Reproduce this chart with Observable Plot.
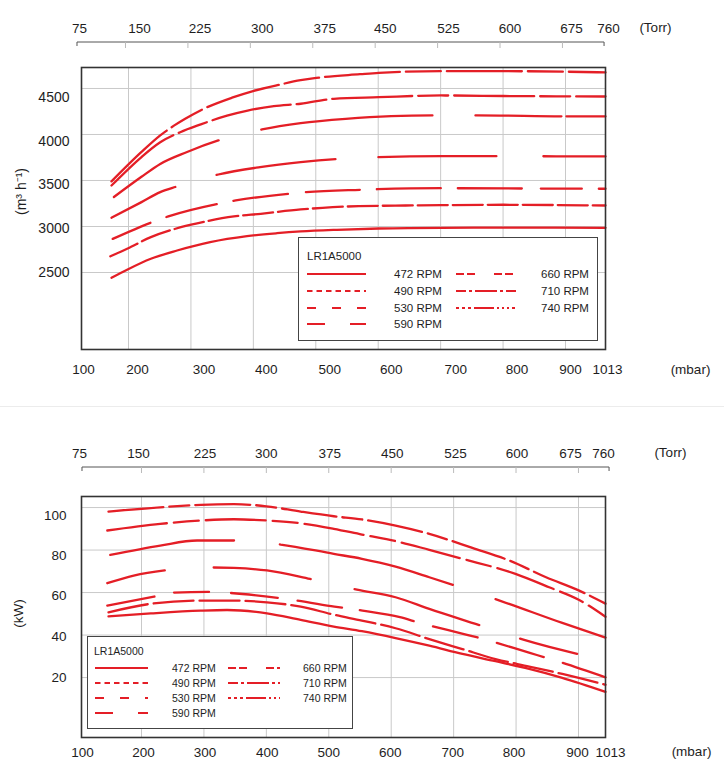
<!DOCTYPE html>
<html><head><meta charset="utf-8">
<script src="https://cdn.jsdelivr.net/npm/d3@7"></script>
<script src="https://cdn.jsdelivr.net/npm/@observablehq/plot@0.6"></script>
<style>
body{margin:0;background:#fff;font-family:"Liberation Sans",Arial,sans-serif;}
#wrap{position:relative;width:724px;height:769px;overflow:hidden;background:#fff;}
.chart{position:absolute;left:0;}
.legend{position:absolute;background:#fff;border:1px solid #444;box-sizing:border-box;}
.sep{position:absolute;left:0;width:724px;height:1px;background:#ececec;}
</style></head><body><div id="wrap"></div><script>
// ---- data ----
const rpmLabels = ["472 RPM","490 RPM","530 RPM","590 RPM","660 RPM","710 RPM","740 RPM"];
const mbarTicks = [100,200,300,400,500,600,700,800,900,1013];
const torrTicks = [75,150,225,300,375,450,525,600,675,760];
const flowTicks = [2500,3000,3500,4000,4500];
const powerTicks = [20,40,60,80,100];
const modelName = "LR1A5000";

const flow472 = [[150,2442],[176,2530],[215,2649],[257,2739],[310,2830],[369,2895],[417,2927],[455,2946],[513,2964],[580,2978],[680,2986],[780,2987],[1013,2986]];
const flow490 = [[148,2675],[176,2758],[215,2884],[263,2992],[305,3058],[348,3109],[391,3138],[455,3185],[490,3203],[548,3221],[623,3228],[680,3232],[780,3236],[1013,3228]];
const flow530 = [[152,2865],[217,3047],[243,3110],[323,3247],[351,3283],[435,3355],[464,3373],[551,3399],[578,3405],[680,3416],[810,3413],[1013,3410]];
const flow590 = [[150,3095],[200,3265],[230,3373],[257,3435],[323,3565],[390,3645],[455,3699],[511,3732],[580,3753],[680,3764],[770,3764],[1013,3761]];
const flow660 = [[154,3320],[200,3540],[230,3680],[273,3810],[323,3935],[393,4055],[455,4123],[527,4170],[600,4199],[668,4207],[737,4207],[875,4197],[1013,4196]];
const flow710 = [[150,3445],[200,3755],[230,3915],[262,4025],[295,4110],[337,4205],[370,4260],[412,4308],[455,4334],[508,4388],[580,4405],[680,4424],[780,4418],[1013,4413]];
const flow740 = [[150,3490],[200,3810],[230,3990],[270,4170],[300,4280],[345,4400],[380,4475],[420,4540],[455,4590],[480,4615],[550,4655],[580,4670],[680,4688],[780,4688],[1013,4675]];

const power472 = [[145,48.8],[215,50.2],[295,51.5],[337,51.8],[401,50.2],[455,47.1],[508,44],[553,41.8],[607,38.6],[661,35],[714,31.1],[767,27.7],[821,24.1],[874,19.9],[1013,13.3]];
const power490 = [[145,50.7],[215,54.7],[295,56.2],[348,56.2],[401,55.4],[455,53.4],[508,49.6],[553,46.8],[607,43.2],[661,38.1],[714,33.4],[767,28.7],[821,25.2],[874,21.7],[1013,16.6]];
const power530 = [[143,53.9],[220,58.1],[252,60],[306,60.3],[343,59.8],[418,57.5],[450,56.2],[509,53.4],[554,51.5],[614,48.4],[646,45.7],[715,40.6],[747,38.2],[822,31.6],[854,28.8],[1013,20.1]];
const power590 = [[143,64.4],[187,68],[237,70.4],[315,71.8],[348,71.6],[401,70.4],[470,66.4],[545,61.4],[607,57.8],[661,52.3],[743,44.5],[813,37.7],[1013,28.2]];
const power660 = [[148,77.7],[230,82.1],[289,84.5],[348,84.5],[423,82.6],[508,78.2],[553,75.9],[607,72.2],[661,67.2],[702,63.3],[776,56],[874,45.7],[1013,38.8]];
const power710 = [[143,89.2],[230,92.3],[295,93.9],[348,94.5],[401,93.9],[455,92.6],[508,90],[553,87.3],[607,84.2],[661,80.1],[714,75.9],[799,68.8],[853,62.5],[903,56.5],[1013,48.6]];
const power740 = [[145,98.1],[230,100.1],[295,101.3],[348,101.6],[400,100.6],[455,98.1],[508,95.9],[553,94.4],[607,91.5],[661,87.6],[730,81],[789,75.1],[848,67.2],[903,60.9],[1013,54.8]];

const flowSeries = [flow472, flow490, flow530, flow590, flow660, flow710, flow740];
const powerSeries = [power472, power490, power530, power590, power660, power710, power740];

// ---- styles ----
const RED = "#e41e26";
const GRID = "#c9c9c9";
const INK = "#1e1e1e";
const FONT = "Liberation Sans, Arial, sans-serif";
const MBAR_PER_TORR = 1013.25 / 760;
const gridMbar = mbarTicks.slice(1, -1);
const topDash = [null, "30,5", "41,17,52,17,55,18,54,17,64,17,64,19", "71,43,120,43,118,47", "120,44,172,43,86,5,60", "80,6,30,6", "75,6,35,6"];
const bottomDash = [null, "40,6", "48,20,35,22,47,20,45,18,55,20,46,20,49,20", "59,49,98,45,130,43", "125,46,178,45", "60,7,25,7", "55,6,20,6"];
const legendDash = [null, "5.5,4", "9,16", "18,25", "8,3,8,19", "10,3,3,3,22,3,3,3", "3,3,3,3,3,3,20,3,2,3,2,3,2,3"];
const flowLabelShift = [0.5, 2.5, 4.5, 7, 9];
const powerLabelShift = [0, 1.5, 3, 6, 8];
const topMbarShift = [2, -4, 0, 0, 1, 0, 2, 1, -8, 2];
const bottomMbarShift = [1, 2, 1, 1, 0, -1, -1, -2, -1, 5];
const topTorrShift = [-2, -2, -4, -4, -4, -6, -5, -6, -7, 3];
const bottomTorrShift = [-2, -3, 1, 0, 1, 1, 2, 1, -8, -2];

const xScale = {type: "linear", domain: [100, 200, 900, 1013], range: [81, 141, 578, 605], axis: null};

function torrAxisMark(opt) {
  return (index, scales, values, dim) => {
    const g = d3.create("svg:g");
    const y0 = dim.marginTop + opt.dy;
    const xs = torrTicks.map(t => scales.x(t * MBAR_PER_TORR));
    const last = xs.length - 1;
    const pos = (x, i) => x + (i === 0 ? opt.endDx[0] : i === last ? opt.endDx[1] : opt.innerDx);
    g.append("line").attr("x1", pos(xs[0], 0)).attr("x2", pos(xs[last], last))
      .attr("y1", y0).attr("y2", y0).attr("stroke", "#555").attr("stroke-width", 1);
    xs.forEach((x, i) => {
      const end = i === 0 || i === last;
      const xx = pos(x, i);
      g.append("line").attr("x1", xx).attr("x2", xx).attr("y1", y0).attr("y2", y0 + (end ? 4 : 6))
        .attr("stroke", end ? "#555" : "#bbb").attr("stroke-width", 1);
    });
    return g.node();
  };
}

function chart(cfg) {
  return Plot.plot({
    width: 724, height: cfg.height,
    marginLeft: 81, marginRight: 119, marginTop: cfg.marginTop, marginBottom: cfg.marginBottom,
    x: xScale,
    y: {domain: cfg.yDomain, axis: null},
    style: {fontFamily: FONT, color: INK, background: "transparent", overflow: "visible"},
    marks: [
      Plot.ruleY(cfg.yTicks, {stroke: GRID, strokeWidth: 1}),
      Plot.ruleX(gridMbar, {stroke: GRID, strokeWidth: 1, dx: cfg.gridDx}),
      ...cfg.series.map((s, i) => Plot.line(s, {
        x: d => d[0], y: d => d[1], stroke: RED, strokeWidth: 2.3,
        strokeDasharray: cfg.dash[i] || undefined, curve: "monotone-x"
      })),
      Plot.frame({stroke: "#333", strokeWidth: 1.6}),
      ...cfg.yTicks.map((t, i) => Plot.text([t], {
        y: d => d, text: d => String(d), frameAnchor: "left", dx: cfg.yLabelDx, dy: cfg.yShift[i],
        textAnchor: "end", fontSize: cfg.yFont, fill: INK
      })),
      ...mbarTicks.map((t, i) => Plot.text([t], {x: d => d, text: d => String(d), frameAnchor: "bottom", dy: cfg.mbarDy, dx: cfg.mbarShift[i], textAnchor: "middle", fontSize: 13.5, fill: INK})),
      ...torrTicks.map((t, i) => Plot.text([t], {x: d => d * MBAR_PER_TORR, text: d => String(d), frameAnchor: "top", dy: cfg.torrDy, dx: cfg.torrShift[i], textAnchor: "middle", fontSize: 13.5, fill: INK})),
      Plot.text(["(mbar)"], {frameAnchor: "bottom-right", dx: cfg.mbarUnit[0], dy: cfg.mbarUnit[1], textAnchor: "middle", fontSize: 13.5, fill: INK}),
      Plot.text(["(Torr)"], {frameAnchor: "top-right", dx: cfg.torrUnit[0], dy: cfg.torrUnit[1], textAnchor: "middle", fontSize: 13.5, fill: INK}),
      Plot.text([cfg.yTitle], {frameAnchor: "left", dx: cfg.yTitlePos[0], dy: cfg.yTitlePos[1], rotate: -90, textAnchor: "middle", fontSize: cfg.yTitleFont, fill: INK}),
      torrAxisMark(cfg.torrAxis)
    ]
  });
}

function legend(parent, L) {
  const div = d3.select(parent).append("div").attr("class", "legend")
    .style("left", L.left + "px").style("top", L.top + "px")
    .style("width", L.w + "px").style("height", L.h + "px");
  const svg = div.append("svg").attr("width", L.w - 2).attr("height", L.h - 2)
    .style("position", "absolute").style("left", "0").style("top", "0")
    .style("font-family", FONT);
  svg.append("text").attr("x", L.title[0]).attr("y", L.title[1]).attr("dy", "0.35em")
    .attr("font-size", L.titleFont).attr("fill", INK).text(modelName);
  rpmLabels.forEach((lab, i) => {
    const col = i < 4 ? 0 : 1;
    const row = i < 4 ? i : i - 4;
    const y = L.rows[row];
    const [x1, x2, tx] = L.cols[col];
    const ln = svg.append("line").attr("x1", x1).attr("x2", x2).attr("y1", y).attr("y2", y)
      .attr("stroke", RED).attr("stroke-width", 2);
    if (legendDash[i]) ln.attr("stroke-dasharray", legendDash[i]);
    svg.append("text").attr("x", tx).attr("y", y).attr("dy", "0.35em")
      .attr("font-size", L.font).attr("fill", INK).text(lab);
  });
}

const wrap = document.getElementById("wrap");

const topChart = chart({
  height: 405, marginTop: 67, marginBottom: 56,
  yDomain: [1663, 4728], yTicks: flowTicks, yShift: flowLabelShift, yLabelDx: -12, yFont: 14,
  series: flowSeries, dash: topDash, gridDx: -13,
  mbarDy: 24.5, torrDy: -44, mbarShift: topMbarShift, torrShift: topTorrShift,
  mbarUnit: [85, 24], torrUnit: [50, -45],
  yTitle: "(m³ h⁻¹)", yTitlePos: [-60, -17], yTitleFont: 14,
  torrAxis: {dy: -25, innerDx: -15.5, endDx: [-4, -1]}
});
topChart.classList.add("chart");
topChart.style.top = "0px";
wrap.appendChild(topChart);

const bottomChart = chart({
  height: 364, marginTop: 91, marginBottom: 32,
  yDomain: [-8.2, 105.2], yTicks: powerTicks, yShift: powerLabelShift, yLabelDx: -15, yFont: 13.5,
  series: powerSeries, dash: bottomDash, gridDx: 0,
  mbarDy: 19, torrDy: -48, mbarShift: bottomMbarShift, torrShift: bottomTorrShift,
  mbarUnit: [86, 18], torrUnit: [65, -49],
  yTitle: "(kW)", yTitlePos: [-63, -3.5], yTitleFont: 13.5,
  torrAxis: {dy: -29, innerDx: 0.5, endDx: [1, 4]}
});
bottomChart.classList.add("chart");
bottomChart.style.top = "405px";
wrap.appendChild(bottomChart);

d3.select(wrap).append("div").attr("class", "sep").style("top", "406px");

legend(wrap, {left: 298, top: 237, w: 300, h: 104, font: 11.5, titleFont: 11.5, title: [8, 18],
  rows: [36, 53, 70, 86], cols: [[8, 67, 95], [157, 218, 242]]});
legend(wrap, {left: 87, top: 636, w: 266, h: 93, font: 10.5, titleFont: 10.5, title: [6, 14],
  rows: [31, 46, 61, 76], cols: [[7, 60, 84], [140, 192, 215]]});
</script></body></html>
